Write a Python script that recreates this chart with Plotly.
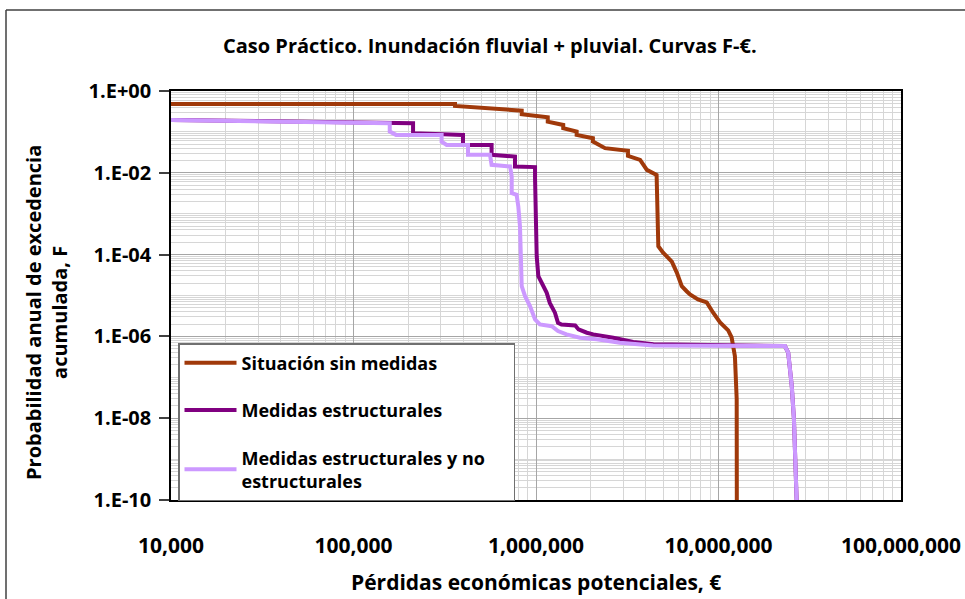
import plotly.graph_objects as go

# ---------------- data ----------------
x_ticks = [1e4, 1e5, 1e6, 1e7, 1e8]
x_ticktext = ["10,000", "100,000", "1,000,000", "10,000,000", "100,000,000"]
y_ticks = [1e0, 1e-2, 1e-4, 1e-6, 1e-8, 1e-10]
y_ticktext = ["1.E+00", "1.E-02", "1.E-04", "1.E-06", "1.E-08", "1.E-10"]

series_names = ["Situación sin medidas", "Medidas estructurales",
                "Medidas estructurales y no&nbsp;&nbsp;&nbsp;&nbsp;&nbsp;<br>estructurales"]

sin_medidas_x = [10000, 360000, 360000, 835000, 835000, 1160000, 1160000, 1410000, 1410000,
                 1670000, 1670000, 2050000, 2050000, 2390000, 3190000, 3190000, 3720000,
                 4050000, 4580000, 4660000, 4680000, 4970000, 5550000, 5910000, 6290000,
                 6690000, 6980000, 7720000, 8620000, 9330000, 10200000, 11300000, 11800000,
                 12300000, 12580000, 12600000]
sin_medidas_f = [0.48, 0.48, 0.43, 0.33, 0.27, 0.228, 0.178, 0.148, 0.123, 0.102, 0.0845,
                 0.070, 0.058, 0.040, 0.0344, 0.026, 0.0207, 0.0118, 0.0089, 1.96e-4, 1.6e-4,
                 1.12e-4, 6.7e-5, 3.64e-5, 1.69e-5, 1.27e-5, 1.06e-5, 8.0e-6, 6.75e-6, 3.85e-6,
                 2.2e-6, 1.4e-6, 9.5e-7, 3.3e-7, 2.9e-8, 1e-10]

estructurales_x = [10000, 212000, 212000, 398000, 398000, 571000, 571000, 767000, 767000,
                   988000, 988000, 1000000, 1009000, 1030000, 1075000, 1145000, 1190000,
                   1270000, 1320000, 1380000, 1640000, 1710000, 1900000, 2060000, 2650000,
                   3140000, 3410000, 4400000, 23100000, 24100000, 25200000, 25900000,
                   26500000, 26800000]
estructurales_f = [0.196, 0.163, 0.093, 0.0845, 0.048, 0.048, 0.0275, 0.025, 0.0143, 0.0138,
                   0.0074, 4.07e-4, 9.1e-5, 2.96e-5, 2.04e-5, 1.16e-5, 6.6e-6, 3.8e-6, 2.16e-6,
                   1.96e-6, 1.85e-6, 1.48e-6, 1.23e-6, 1.12e-6, 9.3e-7, 8.0e-7, 7.3e-7, 6.4e-7,
                   5.8e-7, 4.0e-7, 6.1e-8, 9.5e-9, 5.7e-10, 1e-10]

est_no_est_x = [10000, 158000, 158000, 171000, 304000, 304000, 324000, 424000, 424000, 560000,
                571000, 721000, 736000, 736000, 783000, 800000, 817000, 824000, 835000, 871000,
                927000, 988000, 1050000, 1220000, 1320000, 1470000, 1740000, 2150000, 2880000,
                4380000, 23100000, 24100000, 25200000, 25900000, 26500000, 26800000]
est_no_est_f = [0.196, 0.163, 0.102, 0.0845, 0.0845, 0.058, 0.048, 0.048, 0.0275, 0.0275,
                0.0157, 0.0143, 0.0081, 0.0032, 0.0029, 0.0015, 4.9e-4, 9.1e-5, 1.69e-5, 9.6e-6,
                5.5e-6, 2.6e-6, 1.96e-6, 1.78e-6, 1.35e-6, 1.12e-6, 9.3e-7, 8.5e-7, 7.0e-7,
                6.0e-7, 5.8e-7, 4.0e-7, 6.1e-8, 9.5e-9, 5.7e-10, 1e-10]

colors = ["#A0390A", "#800080", "#CC99FF"]

# ---------------- figure ----------------
FONT = "Open Sans"
fig = go.Figure()
for i, (xs, ys) in enumerate([(sin_medidas_x, sin_medidas_f),
                              (estructurales_x, estructurales_f),
                              (est_no_est_x, est_no_est_f)]):
    fig.add_trace(go.Scatter(x=xs, y=ys, mode="lines", name=series_names[i],
                             legendgroup=f"g{i}",
                             line=dict(color=colors[i], width=4)))

minor_x = [k * 10 ** n for n in range(4, 8) for k in range(2, 10)]
minor_y = [k * 10.0 ** n for n in range(-10, 0) for k in range(1, 10)]

fig.update_xaxes(type="log", range=[4, 8], tickmode="array", tickvals=x_ticks,
                 ticktext=x_ticktext, ticks="", ticklabelstandoff=26,
                 showgrid=True, gridcolor="#a6a6a6", gridwidth=1.2,
                 minor=dict(tickmode="array", tickvals=minor_x, showgrid=True,
                            gridcolor="#d6d6d6", gridwidth=1),
                 showline=True, linecolor="#000000", linewidth=1.5, mirror=True,
                 tickfont=dict(family=FONT, size=21, color="#000000", weight="bold"),
                 zeroline=False, automargin=False)
fig.update_yaxes(type="log", range=[-10, 0], tickmode="array", tickvals=y_ticks,
                 ticktext=y_ticktext, ticks="outside", ticklen=10, tickwidth=1.5,
                 tickcolor="#404040", ticklabelstandoff=4,
                 showgrid=True, gridcolor="#a6a6a6", gridwidth=1.2,
                 minor=dict(tickmode="array", tickvals=minor_y, showgrid=True,
                            gridcolor="#d6d6d6", gridwidth=1),
                 showline=True, linecolor="#000000", linewidth=1.5, mirror=True,
                 tickfont=dict(family=FONT, size=20, color="#000000", weight="bold"),
                 zeroline=False, automargin=False)

L, R, T, B = 171, 64, 91, 99
W, H = 965, 599
pw, ph = W - L - R, H - T - B

def px(xp):
    return (xp - L) / pw

def py(yp):
    return (H - B - yp) / ph

fig.update_layout(
    width=W, height=H, autosize=False,
    margin=dict(l=L, r=R, t=T, b=B),
    paper_bgcolor="white", plot_bgcolor="white",
    showlegend=True,
    legend=dict(x=px(178), y=py(343), xanchor="left", yanchor="top",
                bgcolor="white", bordercolor="#707070", borderwidth=1.5,
                tracegroupgap=21, itemwidth=52,
                font=dict(family=FONT, size=18, color="#000000", weight="bold")),
    annotations=[
        dict(text="Caso Práctico. Inundación fluvial + pluvial. Curvas F-€.",
             xref="paper", yref="paper", x=px(490), y=py(45), xanchor="center",
             yanchor="middle", showarrow=False,
             font=dict(family=FONT, size=20, color="#000000", weight="bold")),
        dict(text="Pérdidas económicas potenciales, €",
             xref="paper", yref="paper", x=0.5, y=py(582), xanchor="center",
             yanchor="middle", showarrow=False,
             font=dict(family=FONT, size=21, color="#000000", weight="bold")),
        dict(text="Probabilidad anual de excedencia<br>acumulada, F",
             xref="paper", yref="paper", x=px(46), y=py(313), xanchor="center",
             yanchor="middle", showarrow=False, textangle=-90,
             font=dict(family=FONT, size=20, color="#000000", weight="bold")),
    ],
    shapes=[
        dict(type="line", xref="paper", yref="paper", x0=px(6), x1=px(6),
             y0=py(605), y1=py(10), line=dict(color="#404040", width=1.5)),
        dict(type="line", xref="paper", yref="paper", x0=px(6), x1=px(970),
             y0=py(10), y1=py(10), line=dict(color="#404040", width=1.5)),
    ],
)

fig.write_html("out.html", config={"displayModeBar": False},
               post_script="document.body.style.margin='0';document.body.style.overflow='hidden';")
